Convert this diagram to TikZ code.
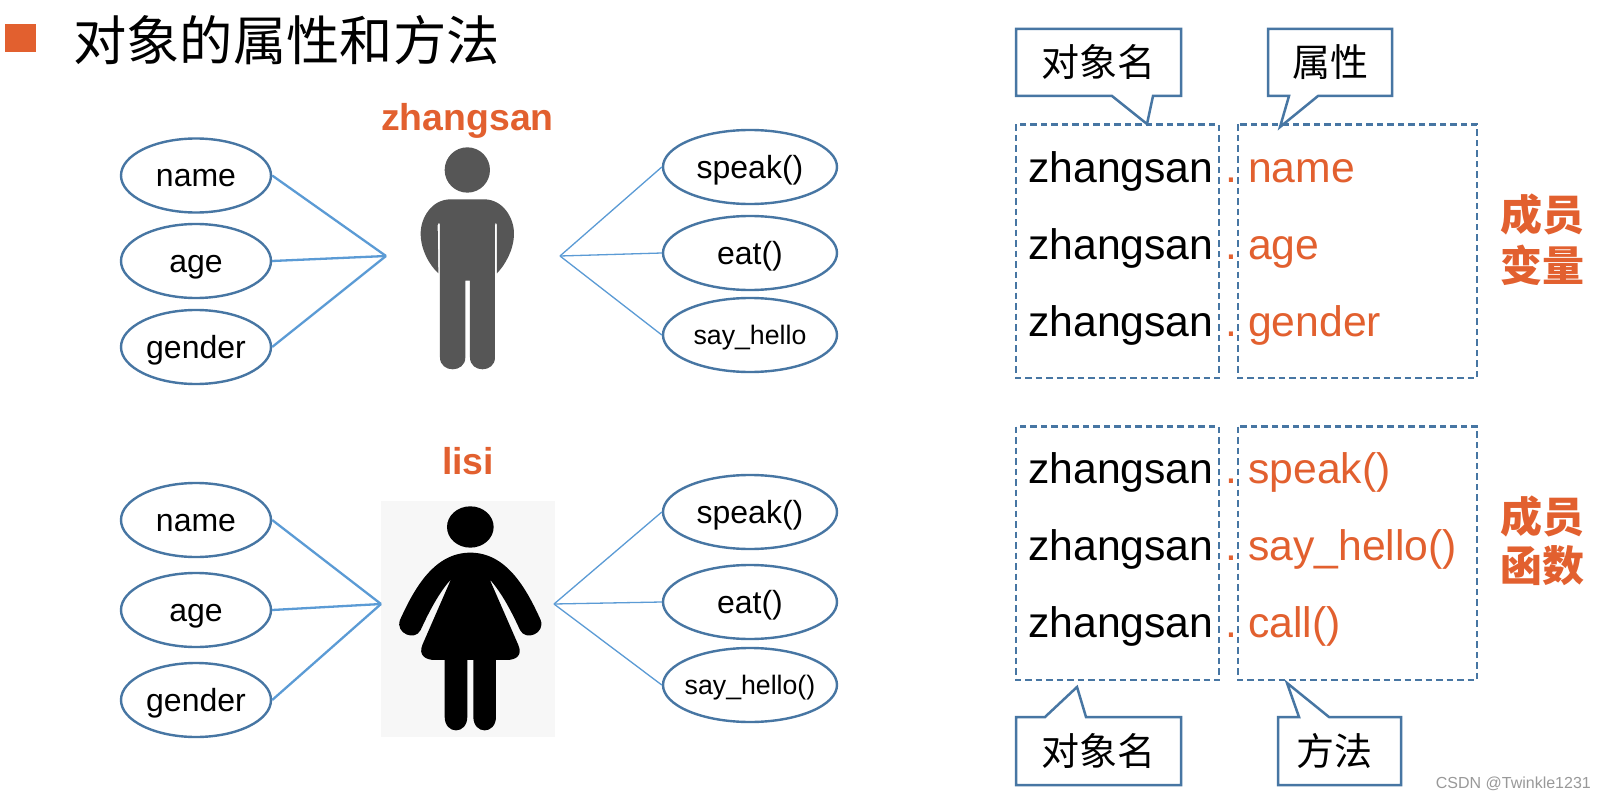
\documentclass[tikz,border=0pt]{standalone}
\usepackage{fontspec}
\setmainfont{Liberation Sans}
\newfontfamily\cjk{Noto Sans CJK SC}
\usetikzlibrary{shapes.geometric}
\definecolor{accent}{HTML}{E2602F}
\definecolor{edgeblue}{HTML}{4776A3}
\definecolor{linkblue}{HTML}{5B9BD5}
\definecolor{mangray}{HTML}{565656}
\definecolor{photobg}{HTML}{F7F7F7}
\tikzset{
  oval/.style={ellipse,draw=edgeblue,line width=2.4pt,fill=white,inner sep=0pt,minimum width=150pt,minimum height=74pt,text height=27pt,text depth=5pt,font=\fontsize{32}{36}\selectfont},
  ovalr/.style={oval,minimum width=174pt},
  small/.style={text height=24pt,text depth=6pt,font=\fontsize{26.7}{30}\selectfont},
  linka/.style={draw=linkblue,line width=2.3pt},
  linkb/.style={draw=linkblue,line width=1.3pt},
  dbox/.style={draw=edgeblue,line width=2.3pt,dash pattern=on 6.5pt off 4pt},
  callout/.style={draw=edgeblue,line width=2.5pt,fill=white,line join=miter},
  ctext/.style={inner sep=0pt,font=\fontsize{38}{40}\selectfont\cjk},
  code/.style={inner sep=0pt,anchor=base west,font=\fontsize{42.7}{48}\selectfont},
  codeb/.style={code,text=black},
  codeo/.style={code,text=accent},
  who/.style={inner sep=0pt,anchor=base,text=accent,font=\fontsize{37.4}{40}\selectfont\bfseries},
  group/.style={inner sep=0pt,text=accent,font=\fontsize{42}{44}\selectfont\cjk\bfseries},
}
\begin{document}
\begin{tikzpicture}[x=1pt,y=-1pt]
\useasboundingbox (0,0) rectangle (1606,797);
\fill[white] (0,0) rectangle (1606,797);
% title
\fill[accent] (5,24) rectangle (36,52);
\node[inner sep=0pt,anchor=west,font=\fontsize{53.3}{58}\selectfont\cjk] (title) at (73,40) {对象的属性和方法};
% labels
\node[who] (zs) at (467.5,131) {zhangsan};
\node[who] (ls) at (468,474) {lisi};
% man
\begin{scope}[shift={(360,90)},x=0.3333pt,y=-0.3333pt]
\fill[mangray] (322,240) circle[radius=68];
\fill[mangray] (272,328) -- (372,328) .. controls (430,328) and (462,385) .. (462,430)
  .. controls (462,480) and (435,525) .. (411,550) -- (411,405)
  .. controls (411,398) and (406,396) .. (405,405) -- (405,802)
  .. controls (405,850) and (330,850) .. (330,802) -- (330,572) -- (316,572) -- (316,802)
  .. controls (316,850) and (240,850) .. (240,802) -- (240,405)
  .. controls (239,396) and (233,398) .. (233,405) -- (235,550)
  .. controls (208,525) and (182,480) .. (182,430)
  .. controls (182,385) and (214,328) .. (272,328) -- cycle;
\end{scope}
% woman
\fill[photobg] (381,501) rectangle (555,737);
\begin{scope}[shift={(360,430)},x=0.3333pt,y=-0.3333pt]
\fill[black] (331,291) ellipse[x radius=70,y radius=62];
\fill[black] (331,368) .. controls (225,368) and (165,470) .. (120,570)
  .. controls (105,610) and (165,635) .. (182,600)
  .. controls (205,550) and (235,490) .. (273,448)
  -- (187,645) .. controls (175,675) and (195,690) .. (225,690) -- (254,690) -- (254,860)
  .. controls (254,915) and (322,915) .. (322,860) -- (322,690) -- (340,690) -- (340,860)
  .. controls (340,915) and (408,915) .. (408,860) -- (408,690) -- (440,690)
  .. controls (470,690) and (488,675) .. (475,645) -- (389,448)
  .. controls (427,490) and (457,550) .. (480,600)
  .. controls (497,635) and (557,610) .. (542,570)
  .. controls (497,470) and (437,368) .. (331,368) -- cycle;
\end{scope}
% hubs
\coordinate (hl1) at (386,256);
\coordinate (hr1) at (560,256);
\coordinate (hl2) at (381,604);
\coordinate (hr2) at (554,604);
% ellipses upper
\node[oval] (n1) at (196,175.5) {name};
\node[oval] (a1) at (196,261) {age};
\node[oval] (g1) at (196,347) {gender};
\node[ovalr] (s1) at (750,167) {\makebox[0pt]{speak()}};
\node[ovalr] (e1) at (750,253) {eat()};
\node[ovalr,small] (h1) at (750,335) {\makebox[0pt]{say\_hello}};
% ellipses lower
\node[oval] (n2) at (196,520) {name};
\node[oval] (a2) at (196,610) {age};
\node[oval] (g2) at (196,700) {gender};
\node[ovalr] (s2) at (750,512) {\makebox[0pt]{speak()}};
\node[ovalr] (e2) at (750,602) {eat()};
\node[ovalr,small] (h2) at (750,685) {\makebox[0pt]{say\_hello()}};
% connectors
\draw[linka] (n1.east) -- (hl1);
\draw[linka] (a1.east) -- (hl1);
\draw[linka] (g1.east) -- (hl1);
\draw[linkb] (s1.west) -- (hr1);
\draw[linkb] (e1.west) -- (hr1);
\draw[linkb] (h1.west) -- (hr1);
\draw[linka] (n2.east) -- (hl2);
\draw[linka] (a2.east) -- (hl2);
\draw[linka] (g2.east) -- (hl2);
\draw[linkb] (s2.west) -- (hr2);
\draw[linkb] (e2.west) -- (hr2);
\draw[linkb] (h2.west) -- (hr2);
% dashed boxes
\draw[dbox] (1016,124.5) rectangle (1219,378);
\draw[dbox] (1238,124.5) rectangle (1477,378);
\draw[dbox] (1016,426.5) rectangle (1219,680);
\draw[dbox] (1238,426.5) rectangle (1477,680);
% callouts
\draw[callout] (1016,29) -- (1181,29) -- (1181,96) -- (1153,96) -- (1147,124) -- (1112,96) -- (1016,96) -- cycle;
\draw[callout] (1268,29) -- (1392,29) -- (1392,96) -- (1318,96) -- (1280,127) -- (1289,96) -- (1268,96) -- cycle;
\draw[callout] (1016,717) -- (1045,717) -- (1077,687) -- (1086,717) -- (1181,717) -- (1181,785) -- (1016,785) -- cycle;
\draw[callout] (1278,717) -- (1299,717) -- (1287,683) -- (1329,717) -- (1401,717) -- (1401,785) -- (1278,785) -- cycle;
\node[ctext] (c1) at (1098,62) {对象名};
\node[ctext] (c2) at (1330,62) {属性};
\node[ctext] (c3) at (1098,751) {对象名};
\node[ctext] (c4) at (1334,751) {方法};
% code rows
\node[codeb] (z1) at (1028,182.5) {zhangsan};
\node[codeb] (z2) at (1028,259) {zhangsan};
\node[codeb] (z3) at (1028,336) {zhangsan};
\node[codeb] (z4) at (1028,483.5) {zhangsan};
\node[codeb] (z5) at (1028,560) {zhangsan};
\node[codeb] (z6) at (1028,637) {zhangsan};
\node[codeo] (d1) at (1225,182.5) {.};
\node[codeo] (d2) at (1225,259) {.};
\node[codeo] (d3) at (1225,336) {.};
\node[codeo] (d4) at (1225,483.5) {.};
\node[codeo] (d5) at (1225,560) {.};
\node[codeo] (d6) at (1225,637) {.};
\node[codeo] (m1) at (1248,182.5) {name};
\node[codeo] (m2) at (1248,259) {age};
\node[codeo] (m3) at (1248,336) {gender};
\node[codeo] (m4) at (1248,483.5) {speak()};
\node[codeo] (m5) at (1248,560) {say\_hello()};
\node[codeo] (m6) at (1248,637) {call()};
% groups
\node[group] (g11) at (1542,214) {成员};
\node[group] (g12) at (1542,265) {变量};
\node[group] (g21) at (1542,516) {成员};
\node[group] (g22) at (1542,566) {函数};
% watermark
\node[inner sep=0pt,anchor=base east,text=black!40,font=\fontsize{16}{18}\selectfont] (wm) at (1591,788) {CSDN @Twinkle1231};
\end{tikzpicture}
\end{document}
